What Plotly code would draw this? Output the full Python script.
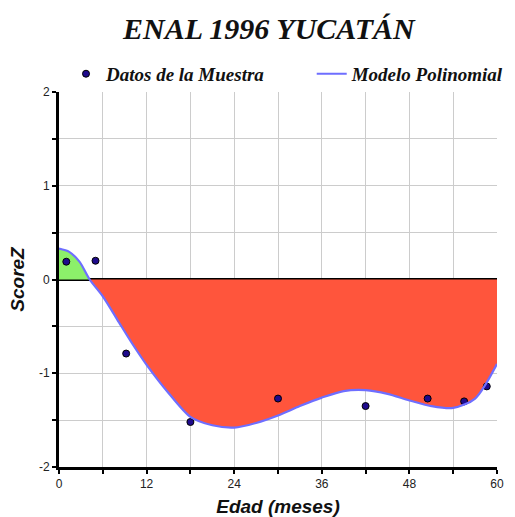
import plotly.graph_objects as go

# Sample data (Datos de la Muestra)
edad_muestra = [1, 5, 9.2, 18, 30, 42, 50.5, 55.5, 58.6]
score_muestra = [0.19, 0.20, -0.79, -1.52, -1.27, -1.35, -1.27, -1.30, -1.14]

# Polynomial model curve (Modelo Polinomial)
edad_modelo = [0, 1.4, 2.8, 4.2, 6, 8, 10, 12, 15, 18, 21, 24, 27, 30, 33, 36, 39, 42, 45, 48, 51, 54, 57, 60]
score_modelo = [0.33, 0.295, 0.19, 0.0, -0.18, -0.43, -0.68, -0.91, -1.21, -1.465, -1.555, -1.58, -1.53, -1.45,
                -1.35, -1.26, -1.19, -1.18, -1.22, -1.29, -1.35, -1.37, -1.27, -0.90]

x_ticks = [0, 6, 12, 18, 24, 30, 36, 42, 48, 54, 60]
x_ticktext = ["0", "", "12", "", "24", "", "36", "", "48", "", "60"]
y_ticks = [-2, -1.5, -1, -0.5, 0, 0.5, 1, 1.5, 2]
y_ticktext = ["-2", "", "-1", "", "0", "", "1", "", "2"]

title_text = "ENAL 1996 YUCATÁN"
x_title = "Edad (meses)"
y_title = "ScoreZ"
name_muestra = "Datos de la Muestra"
name_modelo = "Modelo Polinomial"

pos_x = [x for x, y in zip(edad_modelo, score_modelo) if y >= 0]
pos_y = [y for y in score_modelo if y >= 0]
neg_x = [x for x, y in zip(edad_modelo, score_modelo) if y <= 0]
neg_y = [y for y in score_modelo if y <= 0]

fig = go.Figure()
fig.add_trace(go.Scatter(x=pos_x, y=pos_y, mode="lines", line=dict(width=0, shape="spline", smoothing=0.8),
                         fill="tozeroy", fillcolor="#8CF06A", showlegend=False, hoverinfo="skip"))
fig.add_trace(go.Scatter(x=neg_x, y=neg_y, mode="lines", line=dict(width=0, shape="spline", smoothing=0.8),
                         fill="tozeroy", fillcolor="#FF553C", showlegend=False, hoverinfo="skip"))
fig.add_trace(go.Scatter(x=edad_muestra, y=score_muestra, mode="markers", name=name_muestra, legend="legend",
                         marker=dict(color="#1E0A8C", size=7, line=dict(color="black", width=1))))
fig.add_trace(go.Scatter(x=edad_modelo, y=score_modelo, mode="lines", name=name_modelo, legend="legend2",
                         line=dict(color="#6E6EFF", width=2.2, shape="spline", smoothing=0.8)))

tick_font = dict(family="Liberation Sans, Arial", size=12, color="#222222")
axis_title_font = dict(family="Liberation Sans, Arial", size=19, color="#111111", weight="bold", style="italic")
legend_font = dict(family="Liberation Serif, Times New Roman", size=19, color="#111111",
                   style="italic", weight="bold")

fig.update_layout(
    width=515, height=517,
    margin=dict(l=59, r=18, t=92, b=50, autoexpand=False),
    paper_bgcolor="white", plot_bgcolor="white",
    title=dict(text=title_text, x=0.522, xref="container", xanchor="center",
               y=1 - 28 / 517, yref="container", yanchor="middle",
               font=dict(family="Liberation Serif, Times New Roman", size=30, color="#111111",
                         style="italic", weight="bold")),
    legend=dict(orientation="h", x=0.016, xref="paper", xanchor="left",
                y=1.099, yref="paper", yanchor="top",
                font=legend_font, bgcolor="rgba(0,0,0,0)"),
    legend2=dict(orientation="h", x=0.577, xref="paper", xanchor="left",
                 y=1.099, yref="paper", yanchor="top",
                 font=legend_font, bgcolor="rgba(0,0,0,0)"),
    showlegend=True,
    xaxis=dict(range=[0, 60], tickvals=x_ticks, ticktext=x_ticktext, showgrid=True, gridcolor="#CCCCCC",
               gridwidth=1, zeroline=False, showline=True, linecolor="black", linewidth=3,
               ticks="outside", ticklen=4, tickwidth=1.5, tickcolor="black", tickfont=tick_font,
               title=dict(text=x_title, font=axis_title_font), automargin=False, layer="above traces"),
    yaxis=dict(range=[-2, 2], tickvals=y_ticks, ticktext=y_ticktext, showgrid=True, gridcolor="#CCCCCC",
               gridwidth=1, zeroline=True, zerolinecolor="black", zerolinewidth=3, showline=True,
               linecolor="black", linewidth=3, ticks="outside", ticklen=4, tickwidth=1.5, tickcolor="black",
               tickfont=tick_font, title=dict(text=y_title, font=axis_title_font, standoff=10),
               automargin=True, layer="above traces"),
)

fig.write_html("out.html", config={"displayModeBar": False},
               post_script="document.body.style.margin='0';")
